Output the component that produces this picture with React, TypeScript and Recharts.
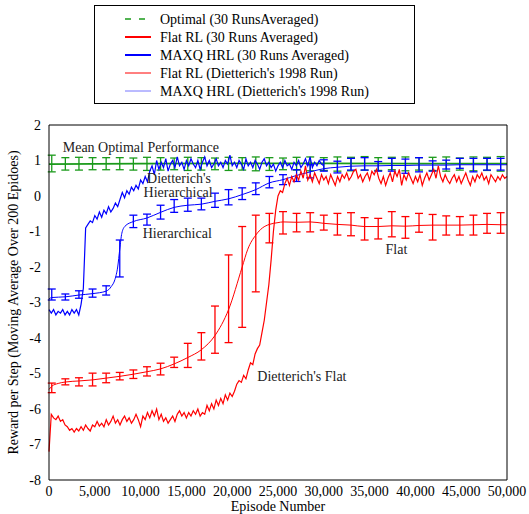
import React from "react";
import { LineChart, Line, XAxis, YAxis, ErrorBar, ReferenceDot } from "recharts";

const FONT = "Liberation Serif, DejaVu Serif, serif";
const GREEN = "#1a9a1a";
const RED = "#ff0000";
const BLUE = "#0000ff";

// Dietterich's single runs, one reading every 250 episodes
const STEP = 250;
const dietFlat = [
  -7.2, -6.15, -6.25, -6.3, -6.2, -6.35, -6.3, -6.45, -6.5, -6.6,
  -6.55, -6.65, -6.55, -6.62, -6.5, -6.6, -6.45, -6.55, -6.62, -6.45,
  -6.5, -6.35, -6.48, -6.4, -6.5, -6.3, -6.45, -6.35, -6.2, -6.4,
  -6.3, -6.45, -6.3, -6.2, -6.35, -6.25, -6.4, -6.3, -6.15, -6.3,
  -6.5, -6.2, -6.3, -6.1, -6.25, -6.05, -6.2, -6.0, -6.3, -6.15,
  -6.35, -6.25, -6.4, -6.3, -6.2, -6.35, -6.15, -6.05, -6.2, -6.1,
  -6.25, -6.1, -6.2, -6.05, -6.15, -6.0, -6.2, -6.1, -6.15, -5.9,
  -6.05, -5.85, -6.0, -5.75, -5.9, -5.7, -5.85, -5.6, -5.75, -5.55,
  -5.65, -5.5, -5.3, -5.2, -5.25, -5.05, -5.15, -4.9, -4.7, -4.75,
  -4.45, -4.3, -4.2, -3.85, -3.5, -3.0, -2.5, -1.8, -1.0, -0.4,
  0.0, 0.15, 0.1, 0.35, 0.5, 0.3, 0.55, 0.4, 0.6, 0.45,
  0.7, 0.5, 0.85, 0.45, 0.6, 0.4, 0.65, 0.5, 0.35, 0.6,
  0.45, 0.55, 0.35, 0.6, 0.45, 0.3, 0.55, 0.4, 0.6, 0.5,
  0.65, 0.45, 0.55, 0.7, 0.75, 0.5, 0.6, 0.4, 0.55, 0.65,
  0.45, 0.7, 0.6, 0.75, 0.5, 0.35, 0.55, 0.3, 0.5, 0.65,
  0.4, 0.7, 0.55, 0.75, 0.3, 0.6, 0.45, 0.65, 0.5, 0.35,
  0.55, 0.4, 0.6, 0.3, 0.5, 0.65, 0.45, 0.6, 0.75, 0.5,
  0.85, 0.55, 0.4, 0.6, 0.45, 0.35, 0.5, 0.6, 0.4, 0.55,
  0.35, 0.5, 0.65, 0.45, 0.3, 0.55, 0.4, 0.6, 0.5, 0.65,
  0.45, 0.55, 0.35, 0.6, 0.5, 0.4, 0.55, 0.45, 0.6, 0.5,
  0.55,
];
const dietHrl = [
  -3.2, -3.3, -3.2, -3.35, -3.25, -3.3, -3.2, -3.35, -3.25, -3.35,
  -3.2, -3.3, -3.2, -3.35, -3.05, -2.6, -0.9, -0.8, -0.7, -0.75,
  -0.55, -0.65, -0.45, -0.6, -0.4, -0.5, -0.3, -0.45, -0.35, -0.2,
  -0.3, -0.1, 0.1, -0.05, 0.15, 0.05, 0.25, 0.15, 0.3, 0.2,
  0.45, 0.35, 0.55, 0.4, 0.7, 0.85, 0.6, 1.0, 0.75, 0.95,
  0.8, 1.05, 0.7, 0.9, 1.0, 0.8, 1.1, 0.85, 0.95, 0.75,
  1.0, 0.85, 1.05, 0.9, 0.8, 1.0, 0.75, 0.95, 1.1, 0.85,
  1.0, 0.8, 0.9, 1.05, 0.85, 0.95, 0.8, 1.0, 0.9, 1.15,
  0.85, 0.95, 0.8, 1.0, 0.9, 0.75, 1.05, 0.85, 0.95, 0.8,
  1.0, 0.9, 0.75, 0.95, 1.05, 0.85, 0.95, 0.8, 0.9, 0.7,
  0.85, 0.95, 0.8, 1.0, 0.85, 0.9, 0.75, 0.95, 0.85, 1.0,
  0.8, 0.9, 1.05, 0.85, 1.1, 0.8, 0.95, 0.85, 1.0, 0.9,
  0.85,
];

// 30-run averages: error bar episodes and bar ends
const barEp = [
  300, 1785, 3270, 4755, 6240, 7725, 9210, 10695, 12180, 13665, 15150, 16635,
  18120, 19605, 21090, 22575, 24060, 25545, 27030, 28515, 30000, 31485, 32970,
  34455, 35940, 37425, 38910, 40395, 41880, 43365, 44850, 46335, 47820, 49305,
];
const optLo = [
  0.68, 0.73, 0.73, 0.74, 0.74, 0.74, 0.73, 0.72, 0.73, 0.74, 0.72, 0.73,
  0.74, 0.72, 0.73, 0.71, 0.72, 0.74, 0.73, 0.71, 0.72, 0.7, 0.71, 0.73,
  0.72, 0.74, 0.71, 0.73, 0.72, 0.7, 0.73, 0.71, 0.72, 0.7,
];
const optHi = [
  1.15, 1.08, 1.09, 1.08, 1.08, 1.08, 1.07, 1.09, 1.08, 1.07, 1.09, 1.08,
  1.07, 1.09, 1.08, 1.1, 1.08, 1.07, 1.09, 1.1, 1.08, 1.1, 1.09, 1.11,
  1.08, 1.09, 1.1, 1.08, 1.09, 1.1, 1.07, 1.1, 1.09, 1.11,
];
const flatLo = [
  -5.54, -5.32, -5.35, -5.35, -5.26, -5.18, -5.14, -5.07, -5.04, -4.83, -4.83, -4.62,
  -4.43, -4.13, -3.7, -2.7, -1.32, -1.07, -1.01, -1.01, -0.96, -1.1, -1.12,
  -1.24, -1.21, -1.15, -1.19, -1.02, -1.24, -1.1, -1.1, -1.1, -1.05, -1.05,
];
const flatHi = [
  -5.27, -5.15, -5.12, -4.99, -4.99, -4.97, -4.9, -4.81, -4.71, -4.54, -4.15, -3.85,
  -3.1, -1.66, -0.86, -0.54, -0.49, -0.44, -0.49, -0.47, -0.54, -0.49, -0.47,
  -0.61, -0.63, -0.44, -0.58, -0.49, -0.52, -0.56, -0.58, -0.54, -0.49, -0.47,
];
const hrlLo = [
  -2.93, -2.93, -2.88, -2.85, -2.79, -2.28, -0.89, -0.82, -0.65, -0.46, -0.43, -0.39,
  -0.32, -0.25, -0.1, 0.04, 0.23, 0.32, 0.41, 0.51, 0.7, 0.65, 0.73,
  0.73, 0.7, 0.7, 0.64, 0.68, 0.7, 0.76, 0.78, 0.68, 0.73, 0.73,
];
const hrlHi = [
  -2.62, -2.76, -2.67, -2.62, -2.53, -1.24, -0.54, -0.51, -0.26, -0.1, -0.06, -0.06,
  0.08, 0.18, 0.23, 0.37, 0.55, 0.6, 0.74, 0.88, 1.02, 0.98, 1.06,
  1.08, 0.97, 1.06, 1.04, 1.08, 0.99, 1.01, 1.06, 1.06, 1.06, 1.06,
];

// 30-run average curves
const optCurveEp = [0, 10000, 20000, 30000, 40000, 50000];
const optCurve = [0.9, 0.91, 0.92, 0.92, 0.91, 0.91];
const flatCurveEp = [
  0, 300, 1000, 1785, 3270, 4755, 6240, 7725, 9210, 10695, 12180, 13665, 15150,
  16635, 18120, 19605, 21090, 21700, 22575, 23300, 24060, 25000, 25545, 27030,
  28515, 30000, 31485, 32970, 34455, 35940, 37425, 38910, 40395, 41880, 43365,
  44850, 46335, 47820, 49305, 50000,
];
const flatCurve = [
  -5.45, -5.36, -5.28, -5.24, -5.21, -5.18, -5.13, -5.08, -5.02, -4.95, -4.87, -4.73, -4.55,
  -4.33, -3.93, -3.2, -2.0, -1.5, -1.1, -0.9, -0.8, -0.75, -0.73, -0.74,
  -0.73, -0.77, -0.8, -0.82, -0.86, -0.86, -0.84, -0.85, -0.83, -0.82, -0.82,
  -0.82, -0.81, -0.8, -0.81, -0.81,
];
const hrlCurveEp = [
  0, 300, 1785, 3270, 4755, 6240, 6800, 7200, 7500, 7725, 7950, 8300, 9210,
  10695, 12180, 13665, 15150, 16635, 18120, 19605, 21090, 22575, 24060, 25545,
  27030, 28515, 30000, 31485, 32970, 34455, 35940, 37425, 38910, 40395, 41880,
  43365, 44850, 46335, 47820, 49305, 50000,
];
const hrlCurve = [
  -2.9, -2.86, -2.84, -2.79, -2.75, -2.68, -2.55, -2.35, -2.0, -1.5, -1.05, -0.85, -0.72,
  -0.62, -0.46, -0.32, -0.26, -0.23, -0.15, -0.08, 0.04, 0.18, 0.37, 0.46,
  0.58, 0.68, 0.77, 0.81, 0.84, 0.85, 0.85, 0.86, 0.86, 0.87, 0.87,
  0.87, 0.88, 0.88, 0.88, 0.88, 0.88,
];

const xTicks = [0, 5000, 10000, 15000, 20000, 25000, 30000, 35000, 40000, 45000, 50000];
const yTicks = [-8, -7, -6, -5, -4, -3, -2, -1, 0, 1, 2];

const legendItems = [
  { name: "Optimal (30 RunsAveraged)", color: GREEN, width: 1.5, dash: "6 8" },
  { name: "Flat RL (30 Runs Averaged)", color: RED, width: 2, dash: undefined },
  { name: "MAXQ HRL (30 Runs Averaged)", color: BLUE, width: 2, dash: undefined },
  { name: "Flat RL (Dietterich's 1998 Run)", color: RED, width: 1, dash: undefined },
  { name: "MAXQ HRL (Dietterich's 1998 Run)", color: "#7777ff", width: 1, dash: undefined },
];

const notes = [
  { text: "Mean Optimal Performance", ep: 10030, v: 1.38 },
  { text: "Dietterich's", ep: 14200, v: 0.51 },
  { text: "Hierarchical", ep: 14100, v: 0.12 },
  { text: "Hierarchical", ep: 14000, v: -1.05 },
  { text: "Flat", ep: 37930, v: -1.5 },
  { text: "Dietterich's Flat", ep: 27610, v: -5.06 },
];

const pts = (eps: number[], vals: number[]) => eps.map((ep, i) => ({ ep, v: vals[i] }));
const stepPts = (vals: number[]) => vals.map((v, i) => ({ ep: i * STEP, v }));
const bars = (lo: number[], hi: number[]) =>
  barEp.map((ep, i) => ({ ep, v: (lo[i] + hi[i]) / 2, e: (hi[i] - lo[i]) / 2 }));

const tickStyle = { fill: "#000", fontSize: 14, fontFamily: FONT, style: { fontFamily: FONT } };

export default function App() {
  const ax = { xAxisId: "b", yAxisId: "l" };
  return (
    <div style={{ position: "absolute", left: 0, top: 0, width: 529, height: 514, background: "#fff", fontFamily: FONT }}>
      <LineChart width={529} height={514} margin={{ top: 125, right: 22, bottom: 0, left: 9 }} style={{ fontFamily: FONT }}>
        <XAxis
          xAxisId="b" type="number" dataKey="ep" domain={[0, 50000]} ticks={xTicks}
          tickFormatter={(t: number) => t.toLocaleString("en-US")}
          tick={tickStyle} tickLine={false} tickSize={0} tickMargin={6} height={34}
          axisLine={{ stroke: "#000" }}
          label={{ value: "Episode Number", position: "insideBottom", offset: 3, fill: "#000", fontSize: 14, fontFamily: FONT, style: { fontFamily: FONT } }}
        />
        <XAxis xAxisId="bm" type="number" dataKey="ep" domain={[0, 50000]} ticks={xTicks} mirror orientation="bottom"
          tick={false} tickSize={5} axisLine={false} tickLine={{ stroke: "#000" }} />
        <XAxis xAxisId="t" type="number" dataKey="ep" domain={[0, 50000]} ticks={xTicks} mirror orientation="top"
          tick={false} tickSize={5} axisLine={{ stroke: "#000" }} tickLine={{ stroke: "#000" }} />
        <YAxis
          yAxisId="l" type="number" domain={[-8, 2]} ticks={yTicks} width={40}
          tick={tickStyle} tickLine={false} tickSize={0} tickMargin={8}
          axisLine={{ stroke: "#000" }}
          label={{
            value: "Reward per Step (Moving Average Over 200 Epidoes)", angle: -90, position: "insideLeft",
            offset: 4, fill: "#000", fontSize: 14, fontFamily: FONT, style: { textAnchor: "middle", fontFamily: FONT },
          }}
        />
        <YAxis yAxisId="lm" type="number" domain={[-8, 2]} ticks={yTicks} mirror orientation="left"
          tick={false} tickSize={5} axisLine={false} tickLine={{ stroke: "#000" }} />
        <YAxis yAxisId="r" type="number" domain={[-8, 2]} ticks={yTicks} mirror orientation="right"
          tick={false} tickSize={5} axisLine={{ stroke: "#000" }} tickLine={{ stroke: "#000" }} />

        <Line {...ax} data={pts(optCurveEp, optCurve)} dataKey="v" stroke={GREEN} strokeWidth={1.8}
          dot={false} type="linear" isAnimationActive={false} />
        <Line {...ax} data={bars(optLo, optHi)} dataKey="v" stroke="none" dot={false} isAnimationActive={false}>
          <ErrorBar dataKey="e" direction="y" width={4} stroke={GREEN} strokeWidth={1.3} />
        </Line>

        <Line {...ax} data={pts(flatCurveEp, flatCurve)} dataKey="v" stroke={RED} strokeWidth={1}
          dot={false} type="monotone" isAnimationActive={false} />
        <Line {...ax} data={bars(flatLo, flatHi)} dataKey="v" stroke="none" dot={false} isAnimationActive={false}>
          <ErrorBar dataKey="e" direction="y" width={4} stroke={RED} strokeWidth={1.3} />
        </Line>

        <Line {...ax} data={pts(hrlCurveEp, hrlCurve)} dataKey="v" stroke={BLUE} strokeWidth={1}
          dot={false} type="monotone" isAnimationActive={false} />
        <Line {...ax} data={bars(hrlLo, hrlHi)} dataKey="v" stroke="none" dot={false} isAnimationActive={false}>
          <ErrorBar dataKey="e" direction="y" width={4} stroke={BLUE} strokeWidth={1.3} />
        </Line>

        <Line {...ax} data={stepPts(dietFlat)} dataKey="v" stroke={RED} strokeWidth={1.2}
          dot={false} type="linear" isAnimationActive={false} />
        <Line {...ax} data={stepPts(dietHrl)} dataKey="v" stroke={BLUE} strokeWidth={1.2}
          dot={false} type="linear" isAnimationActive={false} />

        {notes.map((n, i) => (
          <ReferenceDot key={i} {...ax} x={n.ep} y={n.v} r={1} fill="none" stroke="none" ifOverflow="visible"
            label={{ value: n.text, position: "center", fill: "#222", fontSize: 14, fontFamily: FONT, style: { fontFamily: FONT } }} />
        ))}
      </LineChart>

      <div style={{ position: "absolute", left: 94, top: 5, width: 321, height: 99, border: "1px solid #000", boxSizing: "border-box" }}>
        <svg width={319} height={97} style={{ display: "block" }}>
          {legendItems.map((it, i) => {
            const y = 13 + i * 18;
            return (
              <g key={it.name}>
                <line x1={30} x2={56} y1={y} y2={y} stroke={it.color} strokeWidth={it.width} strokeDasharray={it.dash} />
                <text x={65} y={y} dy="0.35em" fontSize={14} fill="#000" style={{ fontFamily: FONT }}>{it.name}</text>
              </g>
            );
          })}
        </svg>
      </div>
    </div>
  );
}
